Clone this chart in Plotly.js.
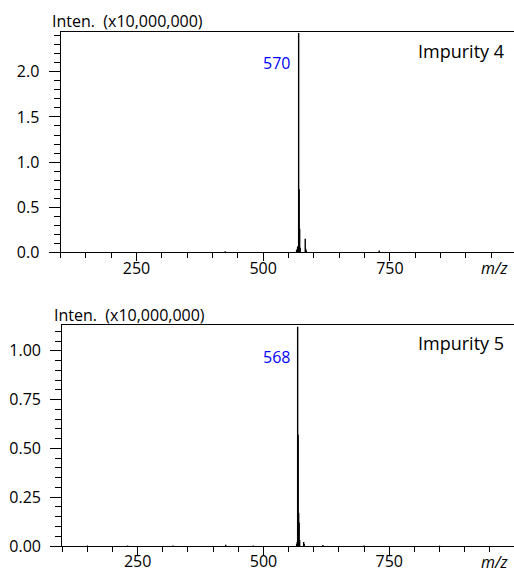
<!DOCTYPE html>
<html>
<head>
<meta charset="utf-8">
<script src="https://cdn.plot.ly/plotly-3.0.1.min.js"></script>
<style>
  html, body { margin: 0; padding: 0; background: #ffffff; }
  #chart { width: 514px; height: 573px; }
</style>
</head>
<body>
<div id="chart"></div>
<script>
// ---- Data (intensity in units of 10,000,000) ----
const mzImpurity4 = [150, 210, 300, 380, 425, 470, 540, 566, 568, 569, 570, 571, 572, 573, 583, 584, 585, 640, 729, 800, 880];
const intImpurity4 = [0.004, 0.003, 0.004, 0.003, 0.012, 0.004, 0.004, 0.03, 0.06, 0.07, 2.43, 0.70, 0.26, 0.05, 0.15, 0.04, 0.02, 0.004, 0.02, 0.003, 0.003];

const mzImpurity5 = [150, 230, 320, 425, 480, 566, 567, 568, 569, 570, 571, 572, 580, 581, 618, 700, 850];
const intImpurity5 = [0.002, 0.002, 0.002, 0.006, 0.002, 0.01, 0.02, 1.123, 0.57, 0.17, 0.12, 0.03, 0.02, 0.01, 0.005, 0.002, 0.002];

const peakLabel4 = "570";
const peakLabel5 = "568";
const sampleName4 = "Impurity 4";
const sampleName5 = "Impurity 5";
const yTitle = "Inten.\u00a0 (x10,000,000)";
const xTitle = "<i>m/z</i>";

// Build stick-spectrum line data from the arrays
function sticks(mz, inten) {
  const x = [], y = [];
  for (let i = 0; i < mz.length; i++) {
    x.push(mz[i], mz[i], null);
    y.push(0, inten[i], null);
  }
  return { x, y };
}

const s4 = sticks(mzImpurity4, intImpurity4);
const s5 = sticks(mzImpurity5, intImpurity5);

const FONT = "Open Sans, Noto Sans, sans-serif";

const traces = [
  { x: s4.x, y: s4.y, type: "scatter", mode: "lines", xaxis: "x", yaxis: "y",
    line: { color: "#000000", width: 1.4 }, hoverinfo: "skip", showlegend: false },
  { x: s5.x, y: s5.y, type: "scatter", mode: "lines", xaxis: "x2", yaxis: "y2",
    line: { color: "#000000", width: 1.4 }, hoverinfo: "skip", showlegend: false }
];

function xAxis(domain, range, anchor) {
  return {
    domain: domain, range: range, anchor: anchor,
    showline: true, linecolor: "#000", linewidth: 1, mirror: true,
    showgrid: false, zeroline: false,
    ticks: "outside", ticklen: 8, tickwidth: 1, tickcolor: "#000",
    tick0: 0, dtick: 250,
    ticklabelstandoff: -7,
    minor: { dtick: 50, ticks: "outside", ticklen: 5, tickcolor: "#000", showgrid: false },
    tickfont: { family: FONT, size: 16, color: "#000" },
    fixedrange: true
  };
}
function yAxis(domain, range, anchor, dtick, minorDtick, fmt) {
  return {
    domain: domain, range: range, anchor: anchor,
    showline: true, linecolor: "#000", linewidth: 1, mirror: false,
    showgrid: false, zeroline: false,
    ticks: "outside", ticklen: 11, tickwidth: 1, tickcolor: "#000",
    tick0: 0, dtick: dtick, tickformat: fmt,
    ticklabelstandoff: 6,
    minor: { dtick: minorDtick, ticks: "outside", ticklen: 6, tickcolor: "#000", showgrid: false },
    tickfont: { family: FONT, size: 16, color: "#000" },
    fixedrange: true
  };
}

const H = 573, W = 514;
const layout = {
  width: W, height: H,
  margin: { l: 0, r: 0, t: 0, b: 0, pad: 0 },
  paper_bgcolor: "#ffffff", plot_bgcolor: "#ffffff",
  showlegend: false,
  font: { family: FONT, color: "#000" },
  xaxis: xAxis([60.5 / W, 1], [100, 995], "y"),
  yaxis: yAxis([(H - 252.3) / H, (H - 31.7) / H], [0, 2.445], "x", 0.5, 0.1, ".1f"),
  xaxis2: xAxis([62.2 / W, 1], [100, 998], "y2"),
  yaxis2: yAxis([(H - 546) / H, (H - 325) / H], [0, 1.132], "x2", 0.25, 0.05, ".2f"),
  annotations: [
    { text: yTitle, xref: "paper", yref: "paper", x: 50 / W, y: (H - 21.5) / H,
      xanchor: "left", yanchor: "middle", showarrow: false,
      font: { family: FONT, size: 16, color: "#000" } },
    { text: yTitle, xref: "paper", yref: "paper", x: 51.5 / W, y: (H - 315) / H,
      xanchor: "left", yanchor: "middle", showarrow: false,
      font: { family: FONT, size: 16, color: "#000" } },
    { text: sampleName4, xref: "paper", yref: "paper", x: 506 / W, y: (H - 50.5) / H,
      xanchor: "right", yanchor: "middle", showarrow: false,
      font: { family: FONT, size: 18, color: "#000" } },
    { text: sampleName5, xref: "paper", yref: "paper", x: 506 / W, y: (H - 343.5) / H,
      xanchor: "right", yanchor: "middle", showarrow: false,
      font: { family: FONT, size: 18, color: "#000" } },
    { text: peakLabel4, xref: "paper", yref: "paper", x: 292 / W, y: (H - 62.7) / H,
      xanchor: "right", yanchor: "middle", showarrow: false,
      font: { family: FONT, size: 16, color: "#0000ff" } },
    { text: peakLabel5, xref: "paper", yref: "paper", x: 292 / W, y: (H - 356.7) / H,
      xanchor: "right", yanchor: "middle", showarrow: false,
      font: { family: FONT, size: 16, color: "#0000ff" } },
    { text: xTitle, xref: "paper", yref: "paper", x: 511 / W, y: (H - 267.5) / H,
      xanchor: "right", yanchor: "middle", showarrow: false,
      font: { family: FONT, size: 16, color: "#000" } },
    { text: xTitle, xref: "paper", yref: "paper", x: 511 / W, y: (H - 562) / H,
      xanchor: "right", yanchor: "middle", showarrow: false,
      font: { family: FONT, size: 16, color: "#000" } }
  ]
};

Plotly.newPlot("chart", traces, layout, { staticPlot: true, displayModeBar: false });
</script>
</body>
</html>
